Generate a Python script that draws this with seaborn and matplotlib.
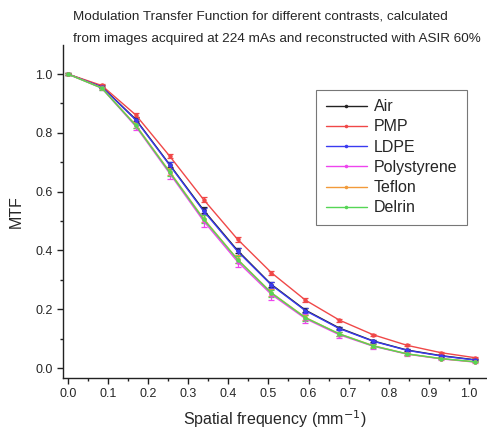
import numpy as np
import pandas as pd
import matplotlib
matplotlib.use("Agg")
import matplotlib.pyplot as plt
import seaborn as sns
from matplotlib.ticker import MultipleLocator

# ---- data ----
freq = [0.0, 0.0846, 0.1692, 0.2538, 0.3384, 0.423, 0.5076, 0.5922, 0.6768, 0.7614, 0.846, 0.9306, 1.0152]
series_names = ["Air", "PMP", "LDPE", "Polystyrene", "Teflon", "Delrin"]
air = [1.0, 0.957, 0.846, 0.692, 0.537, 0.400, 0.284, 0.197, 0.136, 0.092, 0.061, 0.042, 0.028]
pmp = [1.0, 0.961, 0.861, 0.721, 0.573, 0.438, 0.324, 0.231, 0.163, 0.113, 0.077, 0.052, 0.035]
ldpe = [1.0, 0.956, 0.844, 0.690, 0.534, 0.397, 0.282, 0.195, 0.134, 0.091, 0.060, 0.041, 0.027]
polystyrene = [1.0, 0.952, 0.822, 0.662, 0.500, 0.362, 0.250, 0.168, 0.113, 0.074, 0.047, 0.031, 0.020]
teflon = [1.0, 0.953, 0.827, 0.668, 0.508, 0.370, 0.256, 0.172, 0.116, 0.076, 0.048, 0.032, 0.021]
delrin = [1.0, 0.952, 0.825, 0.666, 0.506, 0.369, 0.255, 0.171, 0.116, 0.075, 0.048, 0.032, 0.021]
err_air = [0.003, 0.004, 0.007, 0.008, 0.009, 0.009, 0.008, 0.007, 0.005, 0.004, 0.003, 0.003, 0.002]
err_pmp = [0.003, 0.004, 0.006, 0.007, 0.008, 0.008, 0.007, 0.006, 0.005, 0.004, 0.003, 0.003, 0.002]
err_ldpe = [0.003, 0.004, 0.008, 0.010, 0.011, 0.011, 0.010, 0.008, 0.006, 0.005, 0.004, 0.003, 0.002]
err_poly = [0.004, 0.006, 0.014, 0.018, 0.020, 0.020, 0.018, 0.015, 0.011, 0.008, 0.006, 0.004, 0.003]
err_teflon = [0.003, 0.005, 0.010, 0.012, 0.013, 0.013, 0.012, 0.010, 0.008, 0.006, 0.004, 0.003, 0.002]
err_delrin = [0.003, 0.005, 0.010, 0.012, 0.013, 0.013, 0.012, 0.010, 0.008, 0.006, 0.004, 0.003, 0.002]

values = [air, pmp, ldpe, polystyrene, teflon, delrin]
errors = [err_air, err_pmp, err_ldpe, err_poly, err_teflon, err_delrin]
colors = ["#222222", "#f04848", "#3a3af0", "#ee44ee", "#f29a3a", "#55d655"]

df = pd.DataFrame({
    "freq": np.tile(freq, len(series_names)),
    "MTF": np.concatenate(values),
    "err": np.concatenate(errors),
    "material": np.repeat(series_names, len(freq)),
})

sns.set_style("ticks")
plt.rcParams["font.family"] = ["Liberation Sans", "DejaVu Sans"]

fig = plt.figure(figsize=(4.87, 4.32), dpi=100)
ax = fig.add_axes([0.129, 0.125, 0.871, 0.771])

palette = dict(zip(series_names, colors))
# error bars first
for name, c in zip(series_names, colors):
    sub = df[df.material == name]
    ax.errorbar(sub["freq"], sub["MTF"], yerr=sub["err"], fmt="none",
                ecolor=c, elinewidth=0.9, capsize=2.5, capthick=0.9, zorder=2)

sns.lineplot(data=df, x="freq", y="MTF", hue="material", palette=palette,
             hue_order=series_names, marker="o", markersize=3.2,
             markeredgewidth=0, linewidth=1.0, ax=ax, legend=True, zorder=3)

ax.set_xlim(-0.0125, 1.045)
ax.set_ylim(-0.034, 1.099)
ax.xaxis.set_major_locator(MultipleLocator(0.1))
ax.xaxis.set_minor_locator(MultipleLocator(0.05))
ax.yaxis.set_major_locator(MultipleLocator(0.2))
ax.yaxis.set_minor_locator(MultipleLocator(0.1))
ax.tick_params(axis="both", which="major", length=4, width=1, labelsize=9, color="#222222")
ax.tick_params(axis="both", which="minor", length=2.5, width=1, color="#222222")
sns.despine(ax=ax)
for s in ["left", "bottom"]:
    ax.spines[s].set_linewidth(1.0)
    ax.spines[s].set_color("#222222")

ax.set_xlabel("Spatial frequency (mm$^{-1}$)", fontsize=11.5, labelpad=6)
ax.set_ylabel("MTF", fontsize=11.5, labelpad=8)

handles, labels = ax.get_legend_handles_labels()
leg = ax.legend(handles, labels, loc="upper left", bbox_to_anchor=(0.578, 0.89),
                fontsize=11.5, frameon=True, fancybox=False, edgecolor="#555555",
                handlelength=2.6, handletextpad=0.4, labelspacing=0.33,
                borderpad=0.6, markerscale=0.8)
leg.get_frame().set_linewidth(0.8)

fig.text(0.150, 0.962, "Modulation Transfer Function for different contrasts, calculated",
         fontsize=9.7, ha="left", va="center")
fig.text(0.150, 0.910, "from images acquired at 224 mAs and reconstructed with ASIR 60%",
         fontsize=9.7, ha="left", va="center")

fig.savefig("out.png", dpi=100)
